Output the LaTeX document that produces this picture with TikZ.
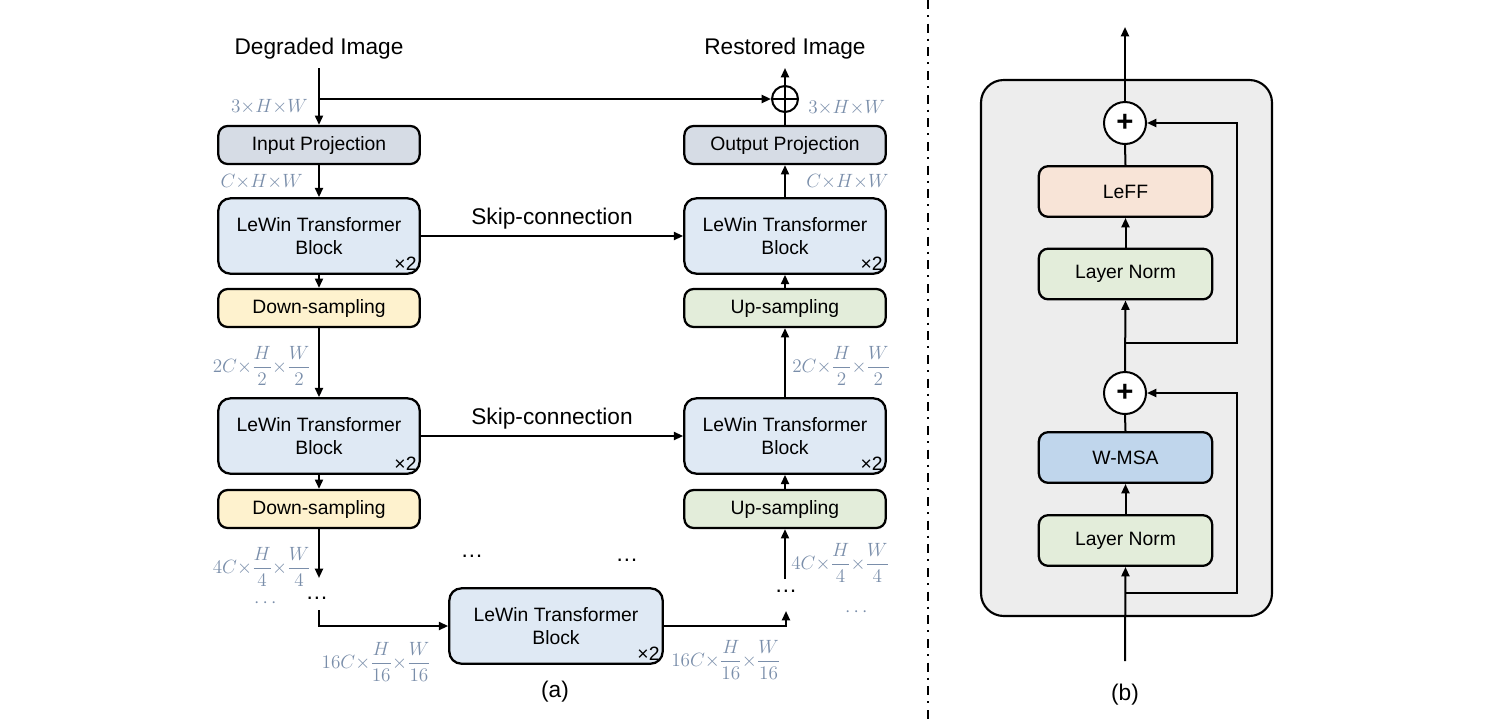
\documentclass[tikz,border=0pt]{standalone}
\usepackage[no-math]{fontspec}
\setmainfont{Liberation Sans}
\usepackage{amsmath}
\usetikzlibrary{arrows.meta}
\definecolor{projgray}{HTML}{D6DCE5}
\definecolor{lewinblue}{HTML}{DFE9F4}
\definecolor{downyellow}{HTML}{FEF2CE}
\definecolor{upgreen}{HTML}{E3EDDA}
\definecolor{leffpeach}{HTML}{F8E4D7}
\definecolor{msablue}{HTML}{C0D6EC}
\definecolor{panelgray}{HTML}{EDEDED}
\definecolor{lblblue}{RGB}{122,142,170}

\begin{document}
\begin{tikzpicture}[x=0.75pt,y=0.75pt,yscale=-1,xscale=1,
  blk/.style={draw, line width=1.7pt, rounded corners=7pt, minimum width=151pt, minimum height=28.5pt, inner sep=0pt, align=center, font=\fontsize{14.5}{17.5}\selectfont},
  tallblk/.style={blk, minimum height=56.5pt, rounded corners=9pt},
  subblk/.style={blk, minimum width=130pt, minimum height=38pt},
  conn/.style={line width=1.5pt},
  arr/.style={conn, -{Triangle[length=7pt,width=6pt]}},
  dimlbl/.style={text=lblblue, font=\fontsize{14}{16}\selectfont, inner sep=0pt},
  title/.style={font=\fontsize{17}{20}\selectfont, inner sep=0pt},
  times/.style={anchor=south east, inner sep=3pt, font=\fontsize{14.5}{17.5}\selectfont},
  addsym/.style={draw, circle, line width=1.5pt, fill=white, inner sep=0pt}]
\useasboundingbox (0,0) rectangle (1496,722);

%Shape: Left column
\node[blk, fill=projgray] (inproj) at (319,145) {Input Projection};
\node[tallblk, fill=lewinblue] (lw1) at (319,236) {LeWin Transformer\\Block};
\node[blk, fill=downyellow] (ds1) at (319,308) {Down-sampling};
\node[tallblk, fill=lewinblue] (lw2) at (319,436) {LeWin Transformer\\Block};
\node[blk, fill=downyellow] (ds2) at (319,509) {Down-sampling};

%Shape: Right column
\node[blk, fill=projgray] (outproj) at (785,145) {Output Projection};
\node[tallblk, fill=lewinblue] (rw1) at (785,236) {LeWin Transformer\\Block};
\node[blk, fill=upgreen] (us1) at (785,308) {Up-sampling};
\node[tallblk, fill=lewinblue] (rw2) at (785,436) {LeWin Transformer\\Block};
\node[blk, fill=upgreen] (us2) at (785,509) {Up-sampling};

%Shape: Bottleneck
\node[tallblk, fill=lewinblue, minimum width=160pt] (bw) at (556,626) {LeWin Transformer\\Block};

% x2 marks
\node[times] (lw1x) at (lw1.south east) {×2};
\node[times] (lw2x) at (lw2.south east) {×2};
\node[times] (rw1x) at (rw1.south east) {×2};
\node[times] (rw2x) at (rw2.south east) {×2};
\node[times] (bwx) at (bw.south east) {×2};

%Shape: Circle (global residual)
\node[addsym, minimum size=19.5pt] (plus) at (785,99) {};
\draw[line width=1.1pt] (plus.north) -- (plus.south) (plus.west) -- (plus.east);

% Text Node
\node[title] (degr) at (319,49) {Degraded Image};
% Text Node
\node[title] (rest) at (785,49) {Restored Image};

\coordinate (din) at (319,68);
\coordinate (br) at (319,99);
\coordinate (rout) at (785,68);
\coordinate (dsend) at (319,578);
\coordinate (botl) at (319,610);
\coordinate (botr) at (786,611);
\coordinate (usin) at (785,579);

\draw[arr] (din) -- (inproj.north);
\draw[arr] (br) -- (plus.west);
\draw[conn] (outproj.north) -- (plus.south);
\draw[arr] (plus.north) -- (rout);
\draw[arr] (inproj) -- (lw1);
\draw[arr] (lw1) -- (ds1);
\draw[arr] (ds1) -- (lw2);
\draw[arr] (lw2) -- (ds2);
\draw[arr] (ds2.south) -- (dsend);
\draw[arr] (botl) |- (bw.west);
\draw[arr] (bw.east) -| (botr);
\draw[arr] (usin) -- (us2.south);
\draw[arr] (us2) -- (rw2);
\draw[arr] (rw2) -- (us1);
\draw[arr] (us1) -- (rw1);
\draw[arr] (rw1) -- (outproj);
\draw[arr] (lw1.east) -- (rw1.west) node[title, midway, above=4pt] (skip1) {Skip-connection};
\draw[arr] (lw2.east) -- (rw2.west) node[title, midway, above=4pt] (skip2) {Skip-connection};

% Text Node (dimensions)
\node[dimlbl, anchor=east] (d1l) at (308,107) {$3{\times}H{\times}W$};
\node[dimlbl, anchor=west] (d1r) at (808,108) {$3{\times}H{\times}W$};
\node[dimlbl, anchor=east] (d2l) at (303,182) {$C{\times}H{\times}W$};
\node[dimlbl, anchor=west] (d2r) at (806,182) {$C{\times}H{\times}W$};
\node[dimlbl, anchor=east] (d3l) at (311,366) {$2C{\times}\dfrac{H}{2}{\times}\dfrac{W}{2}$};
\node[dimlbl, anchor=west] (d3r) at (792,366) {$2C{\times}\dfrac{H}{2}{\times}\dfrac{W}{2}$};
\node[dimlbl, anchor=east] (d4l) at (311,567) {$4C{\times}\dfrac{H}{4}{\times}\dfrac{W}{4}$};
\node[dimlbl, anchor=west] (d4r) at (791,563) {$4C{\times}\dfrac{H}{4}{\times}\dfrac{W}{4}$};
\node[dimlbl, anchor=east] (d5l) at (431,662) {$16C{\times}\dfrac{H}{16}{\times}\dfrac{W}{16}$};
\node[dimlbl, anchor=west] (d5r) at (671,660) {$16C{\times}\dfrac{H}{16}{\times}\dfrac{W}{16}$};

% Text Node (dots)
\node[title] (dt1) at (317,598) {…};
\node[title] (dt2) at (472,556) {…};
\node[title] (dt3) at (627,560) {…};
\node[title] (dt4) at (786,591) {…};
\node[dimlbl] (dt5) at (267,603) {$\cdots$};
\node[dimlbl] (dt6) at (858,612) {$\cdots$};

% Text Node
\node[title] (capa) at (555,692) {(a)};

%Shape: divider
\draw[line width=1.5pt, dash pattern=on 6.75pt off 4.5pt on 1.5pt off 5pt] (928,0) -- (928,722);

%Shape: Rectangle (block panel)
\draw[line width=1.6pt, fill=panelgray, rounded corners=17pt] (981,80) rectangle (1272,616);

\node[addsym, minimum size=31.5pt, font=\fontsize{22}{22}\selectfont\bfseries] (add2) at (1125,123) {+};
\node[subblk, fill=leffpeach] (leff) at (1125.5,191.5) {LeFF};
\node[subblk, fill=upgreen] (ln2) at (1125.5,274) {Layer Norm};
\node[addsym, minimum size=31.5pt, font=\fontsize{22}{22}\selectfont\bfseries] (add1) at (1125,393) {+};
\node[subblk, fill=msablue] (wmsa) at (1125.5,457.5) {W-MSA};
\node[subblk, fill=upgreen] (ln1) at (1125.5,540.5) {Layer Norm};

\coordinate (bin) at (1125,661);
\coordinate (bsk1) at (1125,593);
\coordinate (bsk1r) at (1237,593);
\coordinate (bsk2) at (1125,343);
\coordinate (bsk2r) at (1237,343);
\coordinate (bout) at (1125,27);

\draw[arr] (bin) -- (ln1.south);
\draw[arr] (bsk1) -- (bsk1r) |- (add1.east);
\draw[arr] (ln1) -- (wmsa);
\draw[conn] (wmsa.north) -- (add1.south);
\draw[arr] (add1.north) -- (ln2.south);
\draw[arr] (bsk2) -- (bsk2r) |- (add2.east);
\draw[arr] (ln2) -- (leff);
\draw[conn] (leff.north) -- (add2.south);
\draw[arr] (add2.north) -- (bout);

% Text Node
\node[title] (capb) at (1125,695) {(b)};
\end{tikzpicture}
\end{document}
